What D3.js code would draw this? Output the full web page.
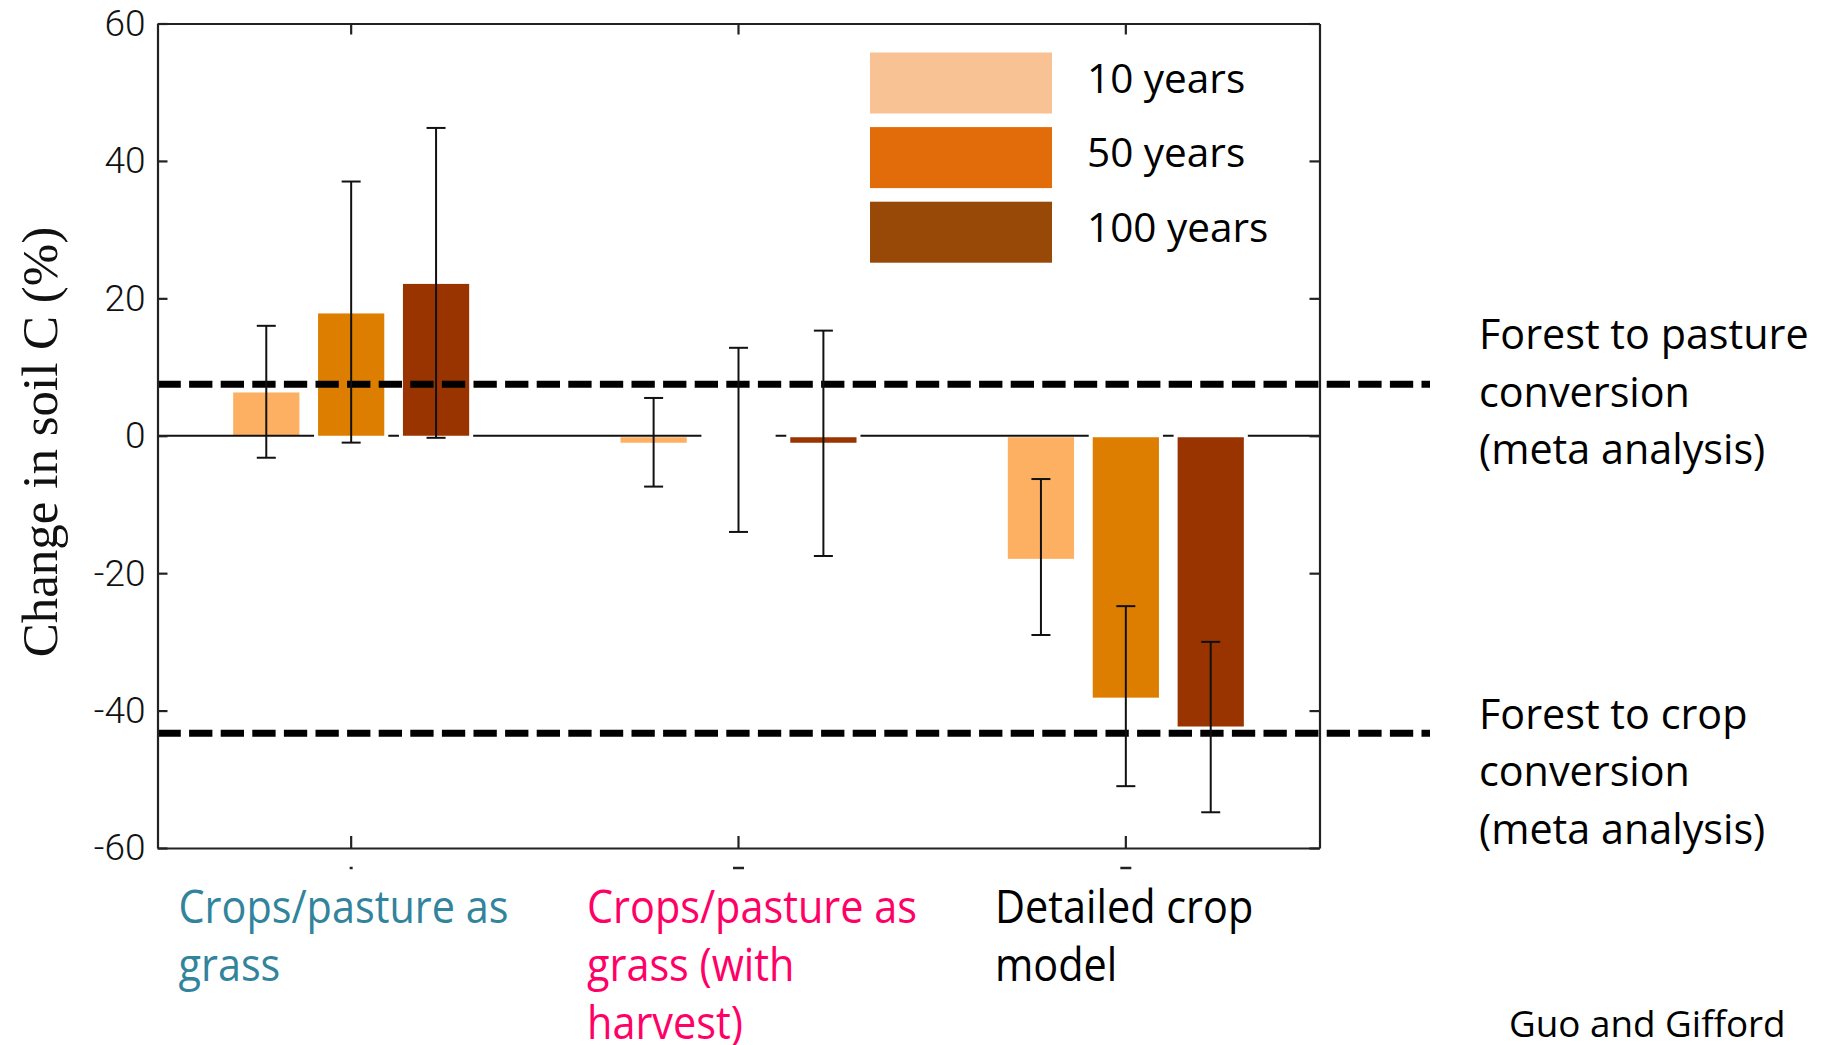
<!DOCTYPE html>
<html>
<head>
<meta charset="utf-8">
<script src="https://cdnjs.cloudflare.com/ajax/libs/d3/7.8.5/d3.min.js"></script>
<style>
  html, body { margin: 0; padding: 0; background: #fff; }
  svg { display: block; }
</style>
</head>
<body>
<svg id="chart" width="1829" height="1045"></svg>
<script>
'use strict';

// categories and series
const categories = [
  ['Crops/pasture as', 'grass'],
  ['Crops/pasture as', 'grass (with', 'harvest)'],
  ['Detailed crop', 'model'],
];
const categoryColors = ['#31849b', '#ff0066', '#000000'];
const series = ['10 years', '50 years', '100 years'];
const barColors = ['#feb062', '#de7e00', '#993300'];
const legendColors = ['#f9c294', '#e36c0a', '#984807'];

// mean change in soil C (%) per series, one value per category
const values10 = [6.3, -0.8, -17.7];
const values50 = [17.8, 0, -37.9];
const values100 = [22.1, -0.8, -42.1];

// error bar ends
const high10 = [16.0, 5.5, -6.3];
const low10 = [-3.2, -7.4, -29.0];
const high50 = [37.0, 12.8, -24.8];
const low50 = [-1.0, -14.0, -51.0];
const high100 = [44.8, 15.3, -30.0];
const low100 = [-0.3, -17.5, -54.8];

// meta analysis reference levels
const refLevels = [7.5, -43.3];
const refLabels = [
  ['Forest to pasture', 'conversion', '(meta analysis)'],
  ['Forest to crop', 'conversion', '(meta analysis)'],
];

const yTicks = [60, 40, 20, 0, -20, -40, -60];

const plot = { left: 157.5, right: 1319.5, top: 23.5, bottom: 848 };

const svg = d3.select('#chart');

const x = d3
  .scaleBand()
  .domain(d3.range(categories.length))
  .range([plot.left, plot.right]);

const xSub = d3
  .scaleBand()
  .domain(d3.range(series.length))
  .range([-118, 118])
  .paddingInner(0.22);

const y = d3
  .scaleLinear()
  .domain([-60, 60])
  .range([plot.bottom, plot.top]);

const allValues = [values10, values50, values100];
const allHigh = [high10, high50, high100];
const allLow = [low10, low50, low100];

let bars = [];
series.forEach((s, si) => {
  categories.forEach((c, ci) => {
    bars.push({
      si: si,
      ci: ci,
      value: allValues[si][ci],
      high: allHigh[si][ci],
      low: allLow[si][ci],
    });
  });
});

const bx = d => x(d.ci) + x.bandwidth() / 2 + xSub(d.si);
const bcx = d => bx(d) + xSub.bandwidth() / 2;

// 10 year bars sit under the zero line
svg
  .append('g')
  .selectAll('rect')
  .data(bars.filter(d => d.si === 0))
  .enter()
  .append('rect')
  .attr('x', bx)
  .attr('width', xSub.bandwidth())
  .attr('y', d => (d.value >= 0 ? y(d.value) : y(0) + 1.5))
  .attr('height', d => Math.abs(y(d.value) - y(0)))
  .attr('fill', barColors[0]);

svg
  .append('line')
  .attr('x1', plot.left)
  .attr('x2', plot.right)
  .attr('y1', y(0))
  .attr('y2', y(0))
  .attr('stroke', '#111')
  .attr('stroke-width', 2);

// the other bars cut the zero line with a white edge
const later = bars.filter(d => d.si > 0);

svg
  .append('g')
  .selectAll('rect')
  .data(later)
  .enter()
  .append('rect')
  .attr('x', d => bx(d) - 4)
  .attr('width', xSub.bandwidth() + 8)
  .attr('y', d => Math.min(y(d.value), y(0)) - 2)
  .attr('height', d => Math.abs(y(d.value) - y(0)) + 5)
  .attr('fill', '#fff');

svg
  .append('g')
  .selectAll('rect')
  .data(later)
  .enter()
  .append('rect')
  .attr('x', bx)
  .attr('width', xSub.bandwidth())
  .attr('y', d => (d.value >= 0 ? y(d.value) : y(0) + 1.5))
  .attr('height', d => Math.abs(y(d.value) - y(0)))
  .attr('fill', d => barColors[d.si]);

// reference dashed lines
svg
  .append('g')
  .selectAll('line')
  .data(refLevels)
  .enter()
  .append('line')
  .attr('x1', plot.left)
  .attr('x2', 1430)
  .attr('y1', d => y(d))
  .attr('y2', d => y(d))
  .attr('stroke', '#000')
  .attr('stroke-width', 7)
  .attr('stroke-dasharray', '23.3 8.3');

// error bars
const err = svg
  .append('g')
  .attr('stroke', '#111')
  .attr('stroke-width', 2)
  .selectAll('g')
  .data(bars)
  .enter()
  .append('g');

err
  .append('line')
  .attr('x1', bcx)
  .attr('x2', bcx)
  .attr('y1', d => y(d.high))
  .attr('y2', d => y(d.low));

['high', 'low'].forEach(k => {
  err
    .append('line')
    .attr('x1', d => bcx(d) - 9.5)
    .attr('x2', d => bcx(d) + 9.5)
    .attr('y1', d => y(d[k]))
    .attr('y2', d => y(d[k]));
});

// axes, ticks point inward
const yAxis = svg
  .append('g')
  .attr('transform', `translate(${plot.left},0)`)
  .call(
    d3
      .axisLeft(y)
      .tickValues(yTicks)
      .tickFormat(d => String(d))
      .tickSizeInner(-10)
      .tickSizeOuter(0)
      .tickPadding(12)
  );

yAxis
  .selectAll('text')
  .attr('font-family', 'Roboto, sans-serif')
  .attr('font-weight', 300)
  .attr('font-size', 37)
  .attr('fill', '#111');

svg
  .append('g')
  .attr('transform', `translate(${plot.right},0)`)
  .call(
    d3
      .axisRight(y)
      .tickValues(yTicks)
      .tickSizeInner(-10)
      .tickSizeOuter(0)
      .tickFormat('')
  );

const xTick = i => x(i) + x.bandwidth() / 2;

svg
  .append('g')
  .attr('transform', `translate(0,${plot.bottom})`)
  .call(
    d3
      .axisBottom(x)
      .tickSizeInner(-12)
      .tickSizeOuter(0)
      .tickFormat('')
  );

svg
  .append('g')
  .attr('transform', `translate(0,${plot.top})`)
  .call(
    d3
      .axisTop(x)
      .tickSizeInner(-11)
      .tickSizeOuter(0)
      .tickFormat('')
  );

svg
  .selectAll('.domain, .tick line')
  .attr('stroke', '#222')
  .attr('stroke-width', 2.2);

// little marks left under the bottom axis
svg
  .append('g')
  .selectAll('line')
  .data(d3.range(categories.length))
  .enter()
  .append('line')
  .attr('x1', d => xTick(d) - (d === 0 ? 1.5 : 5.5))
  .attr('x2', d => xTick(d) + (d === 0 ? 1.5 : 5.5))
  .attr('y1', plot.bottom + 20)
  .attr('y2', plot.bottom + 20)
  .attr('stroke', '#222')
  .attr('stroke-width', 2.5);

// y axis title
svg
  .append('text')
  .attr('transform', 'translate(57,442) rotate(-90)')
  .attr('text-anchor', 'middle')
  .attr('font-family', '"Liberation Serif", serif')
  .attr('font-size', 51)
  .attr('fill', '#111')
  .text('Change in soil C (%)');

// legend
const legend = svg
  .append('g')
  .selectAll('g')
  .data(series)
  .enter()
  .append('g')
  .attr('transform', (d, i) => `translate(870,${52.5 + i * 74.6})`);

legend
  .append('rect')
  .attr('width', 182)
  .attr('height', 61)
  .attr('fill', (d, i) => legendColors[i]);

legend
  .append('text')
  .attr('x', 217)
  .attr('y', 40)
  .attr('font-family', '"Open Sans", sans-serif')
  .attr('font-size', 40.5)
  .attr('fill', '#000')
  .text(d => d);

// category labels under the axis
const catStarts = [178.5, 587, 995];
const cat = svg
  .append('g')
  .selectAll('text')
  .data(categories)
  .enter()
  .append('text')
  .attr('transform', (d, i) => `translate(${catStarts[i]},923) scale(0.9,1)`)
  .attr('font-family', '"Open Sans", sans-serif')
  .attr('font-size', 46)
  .attr('fill', (d, i) => categoryColors[i]);

cat
  .selectAll('tspan')
  .data(d => d)
  .enter()
  .append('tspan')
  .attr('x', 0)
  .attr('y', (d, i) => i * 58)
  .text(d => d);

// reference line notes on the right
const notes = svg
  .append('g')
  .selectAll('text')
  .data(refLabels)
  .enter()
  .append('text')
  .attr('transform', (d, i) => `translate(1479,${[349, 728.5][i]})`)
  .attr('font-family', '"Open Sans", sans-serif')
  .attr('font-size', 41.3)
  .attr('fill', '#000');

notes
  .selectAll('tspan')
  .data(d => d)
  .enter()
  .append('tspan')
  .attr('x', 0)
  .attr('y', (d, i) => i * 57.7)
  .text(d => d);

svg
  .append('text')
  .attr('x', 1509)
  .attr('y', 1037)
  .attr('font-family', '"Open Sans", sans-serif')
  .attr('font-size', 36.8)
  .attr('fill', '#000')
  .text('Guo and Gifford');
</script>
</body>
</html>
